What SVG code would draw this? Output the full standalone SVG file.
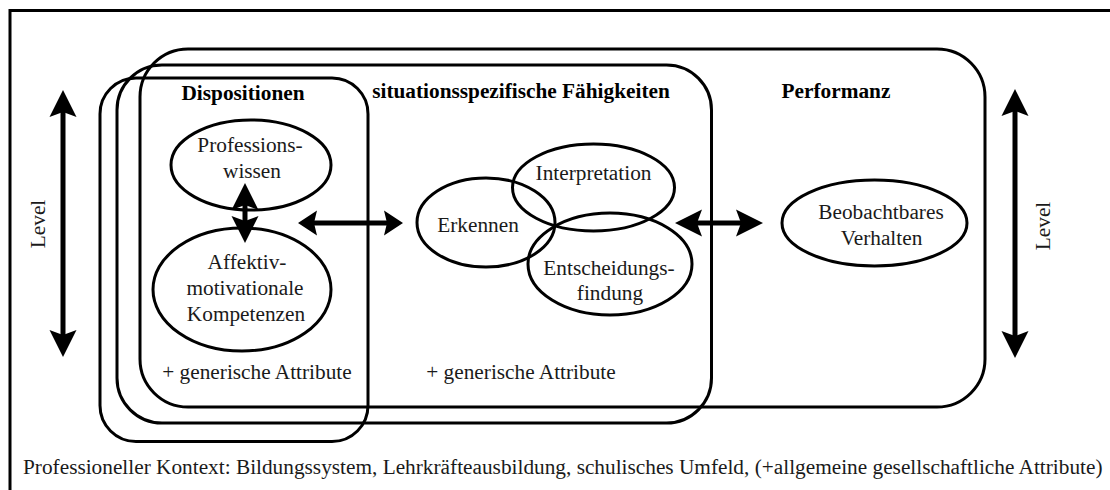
<svg xmlns="http://www.w3.org/2000/svg" width="1110" height="490" viewBox="0 0 1110 490">
<style>
  .frame{fill:none;stroke:#000;stroke-width:3}
  .box{fill:none;stroke:#000;stroke-width:3}
  .ell{fill:none;stroke:#000;stroke-width:3}
  .t{font-family:"Liberation Serif","Times New Roman",serif;font-size:21.3px;fill:#1a1a1a;text-anchor:middle}
  .b{font-weight:bold;fill:#000}
  .s{text-anchor:start}
  .shaft{fill:none;stroke:#000;stroke-width:5}
</style>
<defs>
  <marker id="big" markerUnits="userSpaceOnUse" markerWidth="30" markerHeight="30" refX="5" refY="0" orient="auto-start-reverse" overflow="visible">
    <path d="M0,-13.5 L27,0 L0,13.5 L5,0 Z" fill="#000"/>
  </marker>
  <marker id="small" markerUnits="userSpaceOnUse" markerWidth="24" markerHeight="28" refX="3" refY="0" orient="auto-start-reverse" overflow="visible">
    <path d="M0,-12.5 L19,0 L0,12.5 L3,0 Z" fill="#000"/>
  </marker>
</defs>
<rect width="1110" height="490" fill="#fff"/>
<path class="frame" d="M10,490 V10.5 H1110"/>

<g id="performanz">
  <rect class="box" x="140" y="49" width="845" height="358" rx="48" ry="48"/>
  <text class="t b" x="836" y="98">Performanz</text>
</g>
<g id="situationsspezifisch">
  <rect class="box" x="117" y="65" width="594.5" height="358" rx="45" ry="45"/>
  <text class="t b" x="521" y="98">situationsspezifische Fähigkeiten</text>
  <text class="t" x="521" y="379">+ generische Attribute</text>
</g>
<g id="dispositionen">
  <rect class="box" x="100" y="78" width="268" height="363.5" rx="36" ry="36"/>
  <text class="t b" x="243" y="100">Dispositionen</text>
  <text class="t" x="257" y="379">+ generische Attribute</text>
</g>

<g id="professionswissen">
  <ellipse class="ell" cx="251" cy="165" rx="80" ry="45"/>
  <text class="t" x="250" y="152">Professions-</text>
  <text class="t" x="252" y="178">wissen</text>
</g>
<g id="affektiv">
  <ellipse class="ell" cx="242" cy="289.5" rx="89" ry="61.5"/>
  <text class="t" x="247" y="269">Affektiv-</text>
  <text class="t" x="245" y="295">motivationale</text>
  <text class="t" x="246" y="321">Kompetenzen</text>
</g>
<g id="erkennen">
  <ellipse class="ell" cx="486" cy="222.5" rx="69" ry="44.5"/>
  <text class="t" x="478" y="232">Erkennen</text>
</g>
<g id="interpretation">
  <ellipse class="ell" cx="593.5" cy="187.5" rx="81" ry="43.5"/>
  <text class="t" x="593.5" y="180">Interpretation</text>
</g>
<g id="entscheidung">
  <ellipse class="ell" cx="610" cy="264" rx="82" ry="51"/>
  <text class="t" x="609" y="275">Entscheidungs-</text>
  <text class="t" x="610" y="300">findung</text>
</g>
<g id="verhalten">
  <ellipse class="ell" cx="874.5" cy="223" rx="92.5" ry="43"/>
  <text class="t" x="881" y="219">Beobachtbares</text>
  <text class="t" x="881.5" y="245">Verhalten</text>
</g>

<g id="level-left">
  <text class="t" transform="translate(45,224) rotate(-90)">Level</text>
</g>
<g id="level-right">
  <text class="t" transform="translate(1050,226) rotate(-90)">Level</text>
</g>

<g id="connectors">
  <line class="shaft" x1="63" y1="112" x2="63" y2="335" marker-start="url(#big)" marker-end="url(#big)"/>
  <line class="shaft" x1="1015" y1="111" x2="1015" y2="336" marker-start="url(#big)" marker-end="url(#big)"/>
  <line class="shaft" x1="245" y1="205" x2="245" y2="221" marker-start="url(#big)" marker-end="url(#big)"/>
  <line class="shaft" x1="314" y1="223" x2="387" y2="223" marker-start="url(#small)" marker-end="url(#small)"/>
  <line class="shaft" x1="697" y1="223" x2="741" y2="223" marker-start="url(#big)" marker-end="url(#big)"/>
</g>

<g id="kontext">
  <text class="t s" x="23" y="474">Professioneller Kontext: Bildungssystem, Lehrkräfteausbildung, schulisches Umfeld, (+allgemeine gesellschaftliche Attribute)</text>
</g>
</svg>
